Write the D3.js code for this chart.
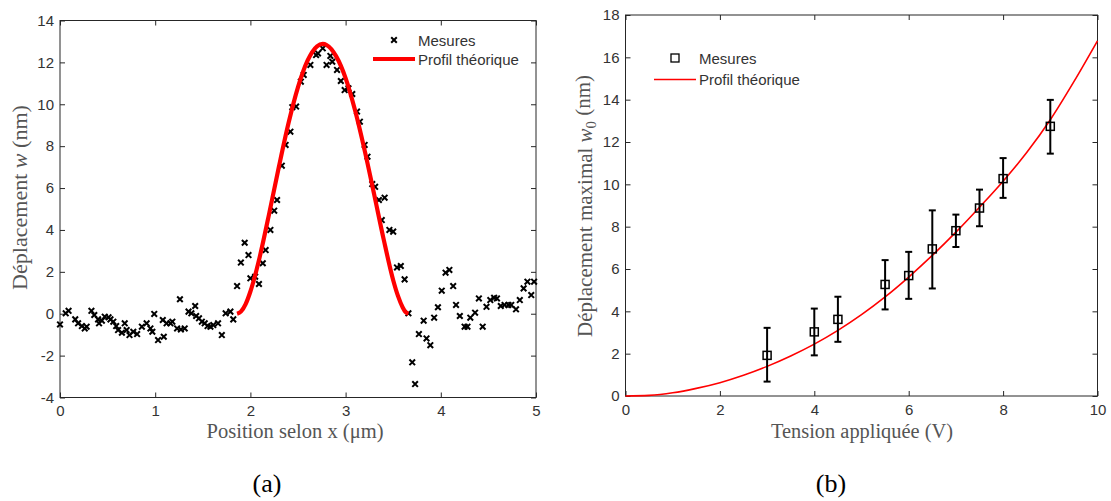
<!DOCTYPE html>
<html><head><meta charset="utf-8">
<script src="https://cdn.jsdelivr.net/npm/d3@7"></script>
<style>
body{margin:0;background:#fff;}
svg{display:block;}
</style></head><body>
<svg id="c" width="1111" height="501"></svg>
<script>
// ---- Panel (a): measured profile ----
const measX = [0.00,0.06,0.09,0.16,0.19,0.23,0.26,0.28,0.33,0.36,0.40,0.41,0.44,0.47,0.51,0.53,0.56,0.59,0.61,0.65,0.68,0.70,0.73,0.77,0.81,0.86,0.91,0.95,0.97,0.99,1.03,1.08,1.09,1.12,1.16,1.18,1.23,1.26,1.27,1.31,1.35,1.38,1.42,1.43,1.46,1.49,1.52,1.55,1.58,1.61,1.66,1.70,1.74,1.79,1.82,
  1.86,1.90,1.94,1.98,2.00,2.05,2.09,2.13,2.16,2.21,2.25,2.28,2.33,2.37,2.42,2.44,2.48,2.53,2.56,2.63,2.69,2.71,2.76,2.80,2.84,2.86,2.91,2.95,2.99,3.03,3.07,3.12,3.15,3.20,3.23,3.28,3.31,3.35,3.38,3.41,3.46,3.50,3.54,3.58,3.62,3.66,
  3.70,3.73,3.77,3.82,3.85,3.89,3.93,3.97,4.01,4.05,4.09,4.13,4.16,4.20,4.25,4.28,4.31,4.36,4.40,4.44,4.48,4.52,4.56,4.59,4.63,4.67,4.71,4.74,4.79,4.83,4.87,4.91,4.95,4.98];
const measY = [-0.51,0.02,0.14,-0.27,-0.46,-0.59,-0.70,-0.62,0.14,-0.06,-0.27,-0.46,-0.33,-0.14,-0.17,-0.27,-0.38,-0.59,-0.78,-0.91,-0.46,-0.78,-1.02,-0.86,-0.97,-0.62,-0.46,-0.70,-0.86,-0.01,-1.26,-0.30,-1.10,-0.46,-0.46,-0.38,-0.70,0.69,-0.75,-0.70,0.10,0.02,0.37,-0.11,-0.22,-0.38,-0.46,-0.59,-0.62,-0.54,-0.46,-1.02,0.02,0.10,-0.27,
  1.32,2.44,3.39,2.80,1.69,1.77,1.42,2.41,3.04,4.00,4.92,5.43,7.07,8.06,8.69,9.86,9.89,11.08,11.40,11.88,12.35,12.43,12.67,11.88,12.31,12.03,11.64,11.11,10.68,10.76,10.49,9.65,9.17,8.06,7.50,6.19,6.06,5.43,4.47,5.54,4.00,3.92,2.21,2.28,1.64,0.02,
  -2.32,-3.36,-0.97,-0.33,-1.18,-1.50,-0.19,0.31,1.10,1.96,2.09,1.32,0.42,-0.11,-0.62,-0.62,-0.19,0.05,0.73,-0.62,0.33,0.65,0.76,0.73,0.37,0.42,0.42,0.42,0.21,0.65,1.21,1.53,0.89,1.53];
// ---- Panel (a): theoretical profile ----
const theoX = [1.86,1.90,1.95,2.00,2.05,2.10,2.20,2.30,2.40,2.50,2.60,2.70,2.76,2.80,2.90,3.00,3.10,3.20,3.30,3.40,3.50,3.55,3.60,3.63,3.66];
const theoY = [0,0.10,0.46,1.06,1.84,2.75,4.84,7.03,9.09,10.82,12.08,12.77,12.88,12.83,12.30,11.25,9.70,7.80,5.70,3.55,1.60,0.85,0.30,0.08,0];
// ---- Panel (b): max displacement vs voltage ----
const voltages = [3,4,4.5,5.5,6,6.5,7,7.5,8,9];
const w0 = [1.92,3.03,3.62,5.27,5.69,6.95,7.81,8.88,10.27,12.74];
const w0Low = [0.68,1.92,2.56,4.09,4.59,5.08,7.04,8.02,9.36,11.45];
const w0High = [3.22,4.13,4.69,6.42,6.81,8.77,8.57,9.75,11.24,13.99];
const curveV = [0,0.5,1,1.5,2,2.5,3,3.5,4,4.5,5,5.5,6,6.5,7,7.5,8,8.5,9,9.5,10];
const curveW = [0,0.03,0.15,0.36,0.63,0.98,1.40,1.89,2.45,3.10,3.84,4.68,5.62,6.64,7.74,8.92,10.15,11.50,13.05,14.85,16.78];
// ---- ticks ----
const ticksAX = [0,1,2,3,4,5];
const ticksAY = [-4,-2,0,2,4,6,8,10,12,14];
const ticksBX = [0,2,4,6,8,10];
const ticksBY = [0,2,4,6,8,10,12,14,16,18];

const svg = d3.select('#c');
const FRAME = '#262626', TXT = '#333', SANS = '"Liberation Sans", Arial, sans-serif', SERIF = '"Liberation Serif", "Times New Roman", serif';

const xA = d3.scaleLinear().domain([0,5]).range([60,536]);
const yA = d3.scaleLinear().domain([-4,14]).range([397.5,20.5]);
const xB = d3.scaleLinear().domain([0,10]).range([625.5,1097.5]);
const yB = d3.scaleLinear().domain([0,18]).range([396,15]);

function frame(x, y, xt, yt) {
  const [x0,x1] = x.range(), [y0,y1] = y.range();
  const fmt = d => String(d);
  const style = g => { g.attr('font-size',15).attr('font-family',SANS); g.select('.domain').remove();
    g.selectAll('line').attr('stroke',FRAME); g.selectAll('text').attr('fill',TXT); };
  svg.append('g').attr('transform',`translate(0,${y0})`)
    .call(d3.axisBottom(x).tickValues(xt).tickSizeInner(-5).tickSizeOuter(0).tickPadding(8).tickFormat(fmt)).call(style);
  svg.append('g').attr('transform',`translate(0,${y1})`)
    .call(d3.axisTop(x).tickValues(xt).tickSizeInner(-5).tickSizeOuter(0).tickFormat('')).call(style);
  svg.append('g').attr('transform',`translate(${x0},0)`)
    .call(d3.axisLeft(y).tickValues(yt).tickSizeInner(-5).tickSizeOuter(0).tickPadding(6).tickFormat(fmt)).call(style);
  svg.append('g').attr('transform',`translate(${x1},0)`)
    .call(d3.axisRight(y).tickValues(yt).tickSizeInner(-5).tickSizeOuter(0).tickFormat('')).call(style);
  svg.append('rect').attr('x',x0).attr('y',y1).attr('width',x1-x0).attr('height',y0-y1)
    .attr('fill','none').attr('stroke',FRAME).attr('stroke-width',1);
}

// ---------- Panel (a) ----------
frame(xA, yA, ticksAX, ticksAY);
const crossPath = 'M-2.8,-2.8L2.8,2.8M-2.8,2.8L2.8,-2.8';
svg.append('g').selectAll('path').data(measX.map((d,i)=>[d,measY[i]])).join('path')
  .attr('d',crossPath).attr('transform',d=>`translate(${xA(d[0])},${yA(d[1])})`)
  .attr('stroke','#000').attr('stroke-width',2).attr('fill','none');
svg.append('path').datum(theoX.map((d,i)=>[d,theoY[i]]))
  .attr('d', d3.line().x(d=>xA(d[0])).y(d=>yA(d[1])).curve(d3.curveMonotoneX))
  .attr('fill','none').attr('stroke','#ff0000').attr('stroke-width',4.2).attr('stroke-linejoin','round');
// legend (a)
svg.append('path').attr('d',crossPath).attr('transform','translate(394,40)').attr('stroke','#000').attr('stroke-width',2);
svg.append('line').attr('x1',373).attr('x2',415).attr('y1',59).attr('y2',59).attr('stroke','#ff0000').attr('stroke-width',4.2);
svg.append('text').attr('x',418).attr('y',45.5).text('Mesures').attr('font-family',SANS).attr('font-size',15).attr('fill',TXT);
svg.append('text').attr('x',418).attr('y',64.5).text('Profil théorique').attr('font-family',SANS).attr('font-size',15).attr('fill',TXT);

// ---------- Panel (b) ----------
frame(xB, yB, ticksBX, ticksBY);
svg.append('path').datum(curveV.map((d,i)=>[d,curveW[i]]))
  .attr('d', d3.line().x(d=>xB(d[0])).y(d=>yB(d[1])).curve(d3.curveMonotoneX))
  .attr('fill','none').attr('stroke','#ff0000').attr('stroke-width',1.6);
const eb = svg.append('g').attr('stroke','#000').attr('stroke-width',2);
voltages.forEach((v,i)=>{
  const cx = xB(v);
  eb.append('line').attr('x1',cx).attr('x2',cx).attr('y1',yB(w0Low[i])).attr('y2',yB(w0High[i]));
  eb.append('line').attr('x1',cx-3.5).attr('x2',cx+3.5).attr('y1',yB(w0Low[i])).attr('y2',yB(w0Low[i]));
  eb.append('line').attr('x1',cx-3.5).attr('x2',cx+3.5).attr('y1',yB(w0High[i])).attr('y2',yB(w0High[i]));
});
svg.append('g').selectAll('rect').data(voltages.map((d,i)=>[d,w0[i]])).join('rect')
  .attr('x',d=>xB(d[0])-4).attr('y',d=>yB(d[1])-4).attr('width',8).attr('height',8)
  .attr('fill','none').attr('stroke','#000').attr('stroke-width',1.5);
// legend (b)
svg.append('rect').attr('x',671).attr('y',54).attr('width',8).attr('height',8).attr('fill','none').attr('stroke','#000').attr('stroke-width',1.3);
svg.append('line').attr('x1',654).attr('x2',696).attr('y1',79.5).attr('y2',79.5).attr('stroke','#ff0000').attr('stroke-width',1.6);
svg.append('text').attr('x',699).attr('y',63.5).text('Mesures').attr('font-family',SANS).attr('font-size',15).attr('fill',TXT);
svg.append('text').attr('x',699).attr('y',85).text('Profil théorique').attr('font-family',SANS).attr('font-size',15).attr('fill',TXT);

// ---------- axis titles ----------
const LBL = '#555';
function ttl(x, y, len, rot) {
  return svg.append('text').attr('transform',`translate(${x},${y})${rot?' rotate(-90)':''}`)
    .attr('text-anchor','middle').attr('font-family',SERIF).attr('font-size',20).attr('fill',LBL)
    .attr('textLength',len).attr('lengthAdjust','spacingAndGlyphs');
}
ttl(295, 438, 177, false).text('Position selon x (μm)');
ttl(862, 438, 182, false).text('Tension appliquée (V)');
const tA = ttl(27, 197.5, 185, true);
tA.append('tspan').text('Déplacement ');
tA.append('tspan').attr('font-style','italic').text('w');
tA.append('tspan').text(' (nm)');
const tB = ttl(592, 206, 262, true);
tB.append('tspan').text('Déplacement maximal ');
tB.append('tspan').attr('font-style','italic').text('w');
tB.append('tspan').attr('font-size',14).attr('dy','0.3em').text('0');
tB.append('tspan').attr('dy','-0.3em').text(' (nm)');
svg.append('text').attr('x',267).attr('y',492).attr('text-anchor','middle').attr('font-family',SERIF).attr('font-size',26).attr('fill','#000').text('(a)');
svg.append('text').attr('x',831).attr('y',492).attr('text-anchor','middle').attr('font-family',SERIF).attr('font-size',26).attr('fill','#000').text('(b)');
</script>
</body></html>
